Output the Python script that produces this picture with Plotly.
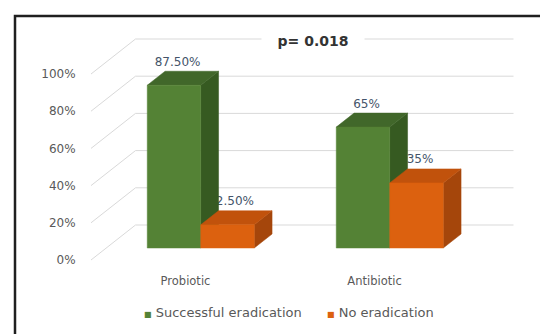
import plotly.graph_objects as go

# ---- chart data -------------------------------------------------------
categories = ["Probiotic", "Antibiotic"]
series_names = ["Successful eradication", "No eradication"]
successful = [87.5, 65]
no_eradication = [12.5, 35]
successful_labels = ["87.50%", "65%"]
no_eradication_labels = ["12.50%", "35%"]
y_ticks = [0, 20, 40, 60, 80, 100]

# ---- styling ----------------------------------------------------------
FACE_COLORS = {
    "Successful eradication": {"front": "#548235", "top": "#41672a", "side": "#365a21"},
    "No eradication": {"front": "#dc610f", "top": "#c1520c", "side": "#a5460b"},
}
GRID_COLOR = "#d9d9d9"
TEXT_COLOR = "#595959"
LABEL_COLOR = "#44546a"
FONT = "DejaVu Sans"

# ---- pseudo-3D geometry (all in axis units) -------------------------
W, H = 540, 334
PX_X = 189.0          # px per category unit
X0_PX = 185.5         # px of category 0 on the front plane
PX_Y = 1.86           # px per percent
Y0_PX = 260.0         # px of 0 % on the front plane
DEPTH_DX = 44.5 / PX_X
DEPTH_DY = 35.0 / PX_Y
BAR_W = 53.5 / PX_X
D_FRONT, D_BACK = 0.343, 0.743

def proj(x, v, d):
    """Map (category x, value v, depth d) onto the 2-D axes."""
    return x + d * DEPTH_DX, v + d * DEPTH_DY

LEFT_PX, BOTTOM_PX = 84, 266
x_range = [(LEFT_PX - X0_PX) / PX_X, (W - X0_PX) / PX_X]
y_range = [(Y0_PX - BOTTOM_PX) / PX_Y, Y0_PX / PX_Y]

fig = go.Figure()

# walls: back-wall gridlines and side-wall diagonals
gx, gy = [], []
for v in y_ticks:
    for (a, b) in [((-0.5, v, 1), (1.5, v, 1)), ((-0.5, v, 0), (-0.5, v, 1))]:
        p, q = proj(*a), proj(*b)
        gx += [p[0], q[0], None]
        gy += [p[1], q[1], None]
fig.add_trace(go.Scatter(x=gx, y=gy, mode="lines", line=dict(color=GRID_COLOR, width=1),
                         hoverinfo="skip", showlegend=False))

series = [
    (series_names[0], successful, successful_labels, -1),
    (series_names[1], no_eradication, no_eradication_labels, 0),
]

# value labels (drawn before the bars so a bar in front can overlap them)
for name, values, labels, offset in series:
    lx, ly = [], []
    for i, v in enumerate(values):
        xc = i + (offset + 0.5) * BAR_W
        px_, _ = proj(xc, v, D_FRONT + 0.08)
        _, top_back = proj(xc, v, D_BACK)
        lx.append(px_)
        ly.append(top_back + 8.5 / PX_Y)
    fig.add_trace(go.Scatter(x=lx, y=ly, mode="text", text=labels,
                             textfont=dict(family=FONT, size=12, color=LABEL_COLOR),
                             textposition="middle center", hoverinfo="skip", showlegend=False))

# bars: side, top, front faces, drawn group by group from left to right
for i in range(len(categories)):
    for name, values, labels, offset in series:
        v = values[i]
        xl = i + offset * BAR_W
        xr = xl + BAR_W
        faces = {
            "side": [(xr, 0, D_FRONT), (xr, 0, D_BACK), (xr, v, D_BACK), (xr, v, D_FRONT)],
            "top": [(xl, v, D_FRONT), (xr, v, D_FRONT), (xr, v, D_BACK), (xl, v, D_BACK)],
            "front": [(xl, 0, D_FRONT), (xr, 0, D_FRONT), (xr, v, D_FRONT), (xl, v, D_FRONT)],
        }
        for face in ["side", "top", "front"]:
            pts = [proj(*p) for p in faces[face]]
            pts.append(pts[0])
            col = FACE_COLORS[name][face]
            fig.add_trace(go.Scatter(
                x=[p[0] for p in pts], y=[p[1] for p in pts], mode="lines",
                fill="toself", fillcolor=col, line=dict(color=col, width=0.5),
                hoverinfo="skip", showlegend=False))

# legend: small coloured square right before each series name
legend_x = [142, 325]
annotations = []
for name, lx in zip(series_names, legend_x):
    annotations.append(dict(
        text=f'<span style="color:{FACE_COLORS[name]["front"]};font-size:8px">■</span> {name}',
        xref="paper", yref="paper", x=lx / W, y=(H - 312.5) / H,
        xanchor="left", yanchor="middle", showarrow=False,
        font=dict(family=FONT, size=13, color=TEXT_COLOR)))

annotations.append(dict(text="<b>p= 0.018</b>", xref="paper", yref="paper",
                        x=313 / W, y=(H - 41) / H, xanchor="center", yanchor="middle",
                        showarrow=False, bgcolor="white", width=100,
                        font=dict(family=FONT, size=14, color="#333333")))

fig.update_layout(
    width=W, height=H,
    margin=dict(l=0, r=0, t=0, b=0),
    paper_bgcolor="white", plot_bgcolor="white",
    font=dict(family=FONT, size=11, color=TEXT_COLOR),
    hovermode=False,
    showlegend=False,
    xaxis=dict(domain=[LEFT_PX / W, 1], range=x_range, tickvals=[0, 1], ticktext=categories,
               showgrid=False, zeroline=False, showline=False, ticks="outside",
               ticklen=4, tickcolor="rgba(0,0,0,0)", tickfont=dict(size=11.5)),
    yaxis=dict(domain=[(H - BOTTOM_PX) / H, 1], range=y_range, tickvals=y_ticks,
               ticktext=[f"{t}%" for t in y_ticks], showgrid=False, zeroline=False,
               showline=False, ticks="outside", ticklen=5, tickcolor="rgba(0,0,0,0)",
               tickfont=dict(size=12)),
    annotations=annotations,
    shapes=[dict(type="rect", xref="paper", yref="paper",
                 x0=15 / W, x1=1.2, y0=-0.2, y1=(H - 16) / H,
                 line=dict(color="#1f1f1f", width=2.5), fillcolor="rgba(0,0,0,0)",
                 layer="above")],
)

fig.write_html("out.html")
